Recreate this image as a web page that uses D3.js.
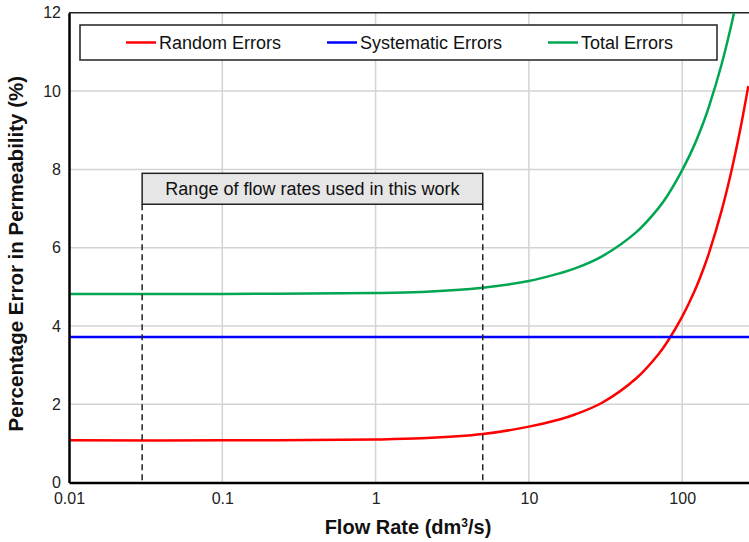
<!DOCTYPE html>
<html>
<head>
<meta charset="utf-8">
<script src="https://cdn.jsdelivr.net/npm/d3@7"></script>
<style>
  html, body { margin: 0; padding: 0; background: #ffffff; }
  svg { display: block; font-family: "Liberation Sans", Arial, sans-serif; }
</style>
</head>
<body>
<svg id="chart" width="749" height="542"></svg>
<script>
// Flow rates (dm^3/s) at which the error curves are sampled
const flowRate = [0.01, 0.1, 1, 2, 5, 10, 16, 20, 30, 50, 70, 81, 100, 120, 140, 150, 180, 210, 240, 270];
// Percentage error in permeability (%)
const randomErrors = [1.08, 1.08, 1.10, 1.13, 1.24, 1.43, 1.62, 1.74, 2.04, 2.66, 3.28, 3.63, 4.24, 4.88, 5.54, 5.88, 6.92, 7.98, 9.05, 10.13];
const totalErrors  = [4.82, 4.82, 4.84, 4.87, 4.98, 5.15, 5.35, 5.47, 5.78, 6.39, 7.01, 7.36, 7.98, 8.62, 9.28, 9.62, 10.66, 11.72, 12.80, 13.90];
const systematicFlow = [0.01, 1000];
const systematicErrors = [3.72, 3.72];

const xTicks = [0.01, 0.1, 1, 10, 100];
const xTickLabels = ["0.01", "0.1", "1", "10", "100"];
const xGrid = [0.1, 1, 10, 100, 1000];
const yTicks = [0, 2, 4, 6, 8, 10, 12];

// Range of flow rates used in the experiments
const usedRange = [0.03, 5];
const usedRangeLabel = "Range of flow rates used in this work";

const seriesNames = ["Random Errors", "Systematic Errors", "Total Errors"];
const seriesColors = ["#ff0000", "#0000ff", "#00a651"];

const svg = d3.select("#chart");
const plot = { left: 69, top: 12.8, bottom: 482.6, right: 835.5 };

const x = d3.scaleLog().domain([0.01, 1000]).range([plot.left, plot.right]);
const y = d3.scaleLinear().domain([0, 12]).range([plot.bottom, plot.top]);

// clip region for the plotted curves
svg.append("defs").append("clipPath").attr("id", "plotClip")
  .append("rect")
  .attr("x", plot.left).attr("y", plot.top)
  .attr("width", plot.right - plot.left).attr("height", plot.bottom - plot.top);

// gridlines
const grid = svg.append("g");
grid.selectAll("line.v").data(xGrid).join("line")
  .attr("x1", d => x(d)).attr("x2", d => x(d))
  .attr("y1", plot.top).attr("y2", plot.bottom)
  .attr("stroke", "#d3d3d3").attr("stroke-width", 1.5);
grid.selectAll("line.h").data(yTicks.slice(1, -1)).join("line")
  .attr("x1", plot.left).attr("x2", plot.right)
  .attr("y1", d => y(d)).attr("y2", d => y(d))
  .attr("stroke", "#d3d3d3").attr("stroke-width", 1.5);

// top frame line
svg.append("line")
  .attr("x1", plot.left).attr("x2", plot.right)
  .attr("y1", plot.top).attr("y2", plot.top)
  .attr("stroke", "#222").attr("stroke-width", 1.5);

// curves
const line = d3.line().x(d => x(d[0])).y(d => y(d[1])).curve(d3.curveCatmullRom.alpha(0.5));
const curves = svg.append("g").attr("clip-path", "url(#plotClip)");
const seriesData = [
  d3.zip(flowRate, randomErrors),
  d3.zip(systematicFlow, systematicErrors),
  d3.zip(flowRate, totalErrors)
];
curves.selectAll("path").data(seriesData).join("path")
  .attr("d", line)
  .attr("fill", "none")
  .attr("stroke", (d, i) => seriesColors[i])
  .attr("stroke-width", 2.5);

// axes
const xAxis = d3.axisBottom(x).tickValues(xTicks)
  .tickFormat((d, i) => xTickLabels[i]).tickSize(0).tickPadding(10);
const gx = svg.append("g").attr("transform", `translate(0,${plot.bottom})`).call(xAxis);
gx.select(".domain").attr("stroke", "#000").attr("stroke-width", 2.5);
gx.selectAll("text").attr("font-size", 16).attr("fill", "#222")
  .attr("font-family", "Liberation Sans, Arial, sans-serif");

const yAxis = d3.axisLeft(y).tickValues(yTicks).tickFormat(d3.format("d"))
  .tickSize(0).tickPadding(8);
const gy = svg.append("g").attr("transform", `translate(${plot.left},0)`).call(yAxis);
gy.select(".domain").attr("stroke", "#000").attr("stroke-width", 2.5);
gy.selectAll("text").attr("font-size", 16).attr("fill", "#222")
  .attr("font-family", "Liberation Sans, Arial, sans-serif");

// used flow-rate range: dashed markers and label box
const boxTop = 7.9, boxBottom = 7.11;
svg.selectAll("line.range").data(usedRange).join("line")
  .attr("x1", d => x(d)).attr("x2", d => x(d))
  .attr("y1", y(boxBottom)).attr("y2", plot.bottom)
  .attr("stroke", "#222").attr("stroke-width", 1.5)
  .attr("stroke-dasharray", "6,4");
svg.append("rect")
  .attr("x", x(usedRange[0])).attr("y", y(boxTop))
  .attr("width", x(usedRange[1]) - x(usedRange[0]))
  .attr("height", y(boxBottom) - y(boxTop))
  .attr("fill", "#e6e6e6").attr("stroke", "#222").attr("stroke-width", 1.5);
svg.append("text")
  .attr("x", (x(usedRange[0]) + x(usedRange[1])) / 2)
  .attr("y", (y(boxTop) + y(boxBottom)) / 2)
  .attr("text-anchor", "middle").attr("dominant-baseline", "central")
  .attr("font-size", 18).attr("fill", "#111")
  .text(usedRangeLabel);

// legend
const legend = svg.append("g");
legend.append("rect")
  .attr("x", 80).attr("y", 25).attr("width", 637).attr("height", 35)
  .attr("fill", "#fff").attr("stroke", "#222").attr("stroke-width", 1.5);
const legendX = [126, 327, 548];
const items = legend.selectAll("g.item").data(seriesNames).join("g")
  .attr("transform", (d, i) => `translate(${legendX[i]},42.5)`);
items.append("line")
  .attr("x1", 0).attr("x2", 30).attr("y1", 0).attr("y2", 0)
  .attr("stroke", (d, i) => seriesColors[i]).attr("stroke-width", 2.5);
items.append("text")
  .attr("x", 33).attr("y", 0).attr("dominant-baseline", "central")
  .attr("font-size", 18).attr("fill", "#111")
  .text(d => d);

// axis titles
const xTitle = svg.append("text")
  .attr("x", 408).attr("y", 534)
  .attr("text-anchor", "middle")
  .attr("font-size", 20).attr("font-weight", "bold").attr("fill", "#111");
xTitle.append("tspan").text("Flow Rate (dm");
xTitle.append("tspan").attr("font-size", 12).attr("dy", -7).text("3");
xTitle.append("tspan").attr("dy", 7).text("/s)");

svg.append("text")
  .attr("transform", `translate(23,${(plot.top + plot.bottom) / 2 + 6}) rotate(-90)`)
  .attr("text-anchor", "middle")
  .attr("font-size", 20.5).attr("font-weight", "bold").attr("fill", "#111")
  .text("Percentage Error in Permeability (%)");
</script>
</body>
</html>
